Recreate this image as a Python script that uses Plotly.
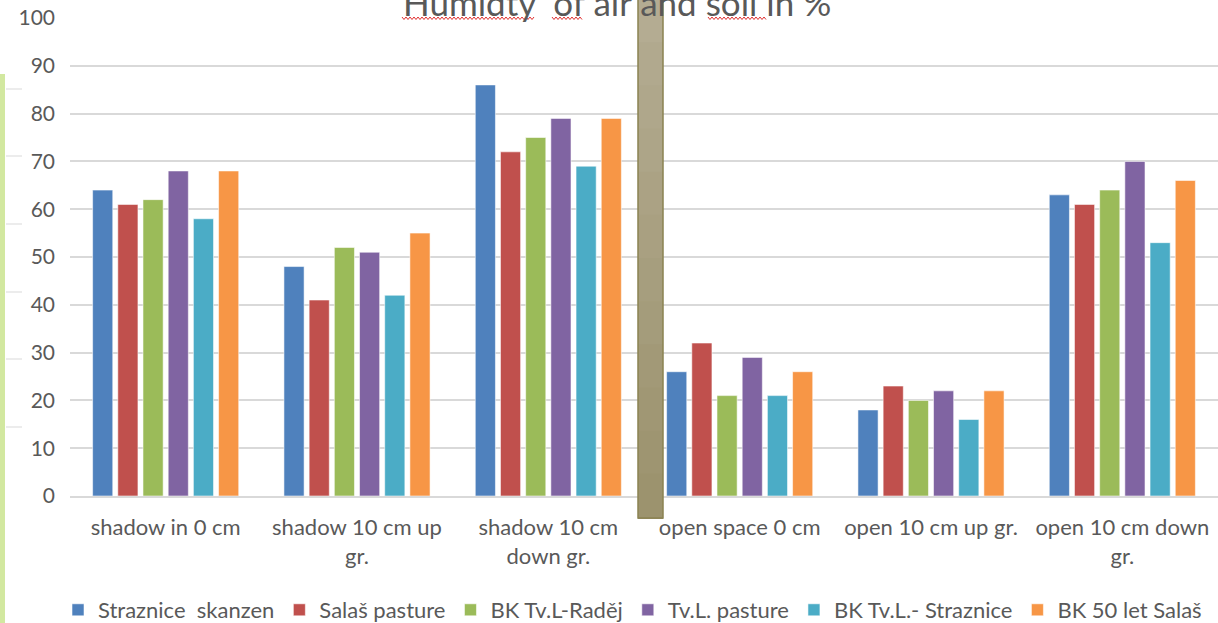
import plotly.graph_objects as go

# categories and series
categories = ["shadow in 0 cm", "shadow 10 cm up<br>gr.", "shadow 10 cm<br>down gr.",
              "open space 0 cm", "open 10 cm up gr.", "open 10 cm down<br>gr."]

straznice_skanzen = [64, 48, 86, 26, 18, 63]
salas_pasture = [61, 41, 72, 32, 23, 61]
bk_tvl_radej = [62, 52, 75, 21, 20, 64]
tvl_pasture = [68, 51, 79, 29, 22, 70]
bk_tvl_straznice = [58, 42, 69, 21, 16, 53]
bk_50_let_salas = [68, 55, 79, 26, 22, 66]

series_names = ["Straznice\u00a0 skanzen", "Salaš pasture", "BK Tv.L-Raděj",
                "Tv.L. pasture", "BK Tv.L.- Straznice", "BK 50 let Salaš"]
series_values = [straznice_skanzen, salas_pasture, bk_tvl_radej,
                 tvl_pasture, bk_tvl_straznice, bk_50_let_salas]
colors = ["#4f81bd", "#c0504d", "#9bbb59", "#8064a2", "#4bacc6", "#f79646"]

W, H = 1218, 623
L, R, T, B = 70, 0, 18, 127   # plot area in pixels
PW, PH = W - L - R, H - T - B


def px(x):
    return (x - L) / PW


def py(y):
    return (H - B - y) / PH


fig = go.Figure()
for name, vals, c in zip(series_names, series_values, colors):
    fig.add_trace(go.Bar(x=categories, y=vals, name=name,
                         marker=dict(color=c, line=dict(color="rgba(255,255,255,0.55)", width=1))))

shapes = []
# brown overlay bar (fake gradient)
n = 12
top_c, bot_c = (180, 172, 146), (156, 147, 110)
for i in range(n):
    t = i / (n - 1)
    col = tuple(int(top_c[k] + (bot_c[k] - top_c[k]) * t) for k in range(3))
    y0 = 518 * i / n
    y1 = 518 * (i + 1) / n
    shapes.append(dict(type="rect", xref="paper", yref="paper", layer="above",
                       x0=px(638), x1=px(663), y0=py(y0 - 1), y1=py(y1 + 1),
                       fillcolor="rgb(%d,%d,%d)" % col, line=dict(width=0)))
shapes.append(dict(type="rect", xref="paper", yref="paper", layer="above",
                   x0=px(638), x1=px(663), y0=py(-5), y1=py(518),
                   fillcolor="rgba(0,0,0,0)", line=dict(color="#8b8352", width=1.5)))

# light green strip on the left
shapes.append(dict(type="rect", xref="paper", yref="paper", layer="above",
                   x0=px(0), x1=px(5), y0=py(74), y1=py(630),
                   fillcolor="#d2e8a0", line=dict(width=0)))
# short grey marks next to it
for yy in [89, 156, 224, 292, 359, 427]:
    shapes.append(dict(type="line", xref="paper", yref="paper",
                       x0=px(6), x1=px(22), y0=py(yy), y1=py(yy),
                       line=dict(color="#d9d9d9", width=1)))

# red wavy spell-check underlines below the title
for x0, x1 in [(402, 535), (552, 583), (708, 766)]:
    pts = []
    x = x0
    k = 0
    while x <= x1:
        yy = 17 if k % 2 == 0 else 19.5
        pts.append("%s%.5f,%.5f" % ("M" if k == 0 else "L", px(x), py(yy)))
        x += 2
        k += 1
    shapes.append(dict(type="path", xref="paper", yref="paper", path=" ".join(pts),
                       line=dict(color="#e03030", width=1)))

fig.update_layout(
    width=W, height=H,
    margin=dict(l=L, r=R, t=T, b=B, autoexpand=False),
    paper_bgcolor="white", plot_bgcolor="white",
    barmode="group", bargap=0.21, bargroupgap=0.2,
    font=dict(family="Lato", color="#595959", size=22),
    shapes=shapes,
    legend=dict(orientation="h", x=0.49, xanchor="center", y=py(610), yanchor="middle",
                font=dict(size=22, color="#595959"), itemwidth=30, tracegroupgap=0),
    annotations=[dict(text="Humidty\u00a0 of air and soil in %", xref="paper", yref="paper",
                      x=px(617), y=py(2), xanchor="center", yanchor="middle",
                      showarrow=False, font=dict(size=35, color="#595959"))],
)
fig.update_yaxes(range=[0, 100], dtick=10, showgrid=True, gridcolor="#d9d9d9", gridwidth=1.5,
                 zeroline=False, showline=False, ticks="", ticklabelstandoff=14,
                 tickfont=dict(size=21, color="#595959"), automargin=False)
fig.update_xaxes(showline=True, linecolor="#d9d9d9", linewidth=1.5, ticks="",
                 ticklabelstandoff=11, tickfont=dict(size=22, color="#595959"), automargin=False)

fig.write_html("out.html", config={"displayModeBar": False},
               post_script="document.body.style.margin='0';")
